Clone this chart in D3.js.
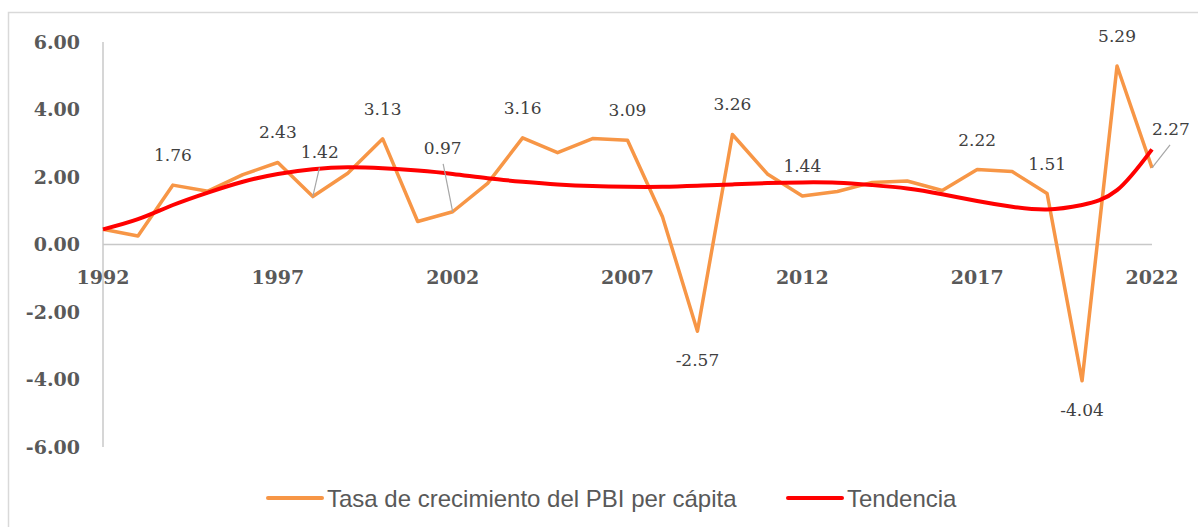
<!DOCTYPE html>
<html>
<head>
<meta charset="utf-8">
<script src="https://cdn.jsdelivr.net/npm/d3@7"></script>
<style>
  body { margin: 0; background: #fff; }
</style>
</head>
<body>
<div id="chart"></div>
<script>
// años y valores
const years = d3.range(1992, 2023);
const growth = [0.45, 0.25, 1.76, 1.58, 2.07, 2.43, 1.42, 2.11, 3.13, 0.68,
                0.97, 1.81, 3.16, 2.72, 3.14, 3.09, 0.82, -2.57, 3.26, 2.09,
                1.44, 1.57, 1.84, 1.88, 1.60, 2.22, 2.16, 1.51, -4.04, 5.29, 2.27];
const trend = [0.45, 0.75, 1.17, 1.54, 1.86, 2.09, 2.23, 2.29, 2.26, 2.19,
               2.09, 1.96, 1.86, 1.78, 1.73, 1.71, 1.71, 1.74, 1.78, 1.82,
               1.84, 1.83, 1.76, 1.66, 1.49, 1.29, 1.12, 1.04, 1.17, 1.61, 2.82];
const yTicks = [6, 4, 2, 0, -2, -4, -6];
const xTicks = [1992, 1997, 2002, 2007, 2012, 2017, 2022];
const labelYears = [1994, 1997, 1998, 2000, 2002, 2004, 2007, 2009, 2010, 2012, 2017, 2019, 2020, 2021, 2022];
const seriesNames = ["Tasa de crecimiento del PBI per cápita", "Tendencia"];

let width = 1198,
    height = 527;

const svg = d3.select("#chart")
  .append("svg")
  .attr("width", width)
  .attr("height", height);

// marco
svg.append("path")
  .attr("d", "M8.5," + (height + 2) + "V12.5H" + (width + 2))
  .attr("fill", "none")
  .attr("stroke", "#d9d9d9")
  .attr("stroke-width", 1.5);

const x = d3.scaleLinear().domain([1992, 2022]).range([103, 1152]);
const y = d3.scaleLinear().domain([-6, 6]).range([447, 42]);

// ejes
svg.append("line")
  .attr("x1", x(1992)).attr("x2", x(1992))
  .attr("y1", y(6)).attr("y2", y(-6))
  .attr("stroke", "#c8c8c8").attr("stroke-width", 1.5);
svg.append("line")
  .attr("x1", x(1992)).attr("x2", x(2022))
  .attr("y1", y(0)).attr("y2", y(0))
  .attr("stroke", "#c8c8c8").attr("stroke-width", 1.5);

svg.selectAll(".ylab")
  .data(yTicks)
  .enter().append("text")
  .attr("class", "ylab")
  .attr("x", 80)
  .attr("y", function (d) { return y(d); })
  .attr("dy", "0.36em")
  .attr("text-anchor", "end")
  .style("font-family", "DejaVu Serif")
  .style("font-weight", "bold")
  .style("font-size", "19px")
  .style("fill", "#595959")
  .text(function (d) { return d.toFixed(2); });

svg.selectAll(".xlab")
  .data(xTicks)
  .enter().append("text")
  .attr("class", "xlab")
  .attr("x", function (d) { return x(d); })
  .attr("y", y(0) + 39)
  .attr("text-anchor", "middle")
  .style("font-family", "DejaVu Serif")
  .style("font-weight", "bold")
  .style("font-size", "19px")
  .style("fill", "#595959")
  .text(function (d) { return d; });

const line = d3.line()
  .x(function (d, i) { return x(years[i]); })
  .y(function (d) { return y(d); });

svg.append("path")
  .datum(growth)
  .attr("d", line)
  .attr("fill", "none")
  .attr("stroke", "#f79646")
  .attr("stroke-width", 3.5)
  .attr("stroke-linejoin", "round");

svg.append("path")
  .datum(trend)
  .attr("d", line.curve(d3.curveNatural))
  .attr("fill", "none")
  .attr("stroke", "#ff0000")
  .attr("stroke-width", 4);

// etiquetas de datos
function labelPos(yr) {
  let v = growth[years.indexOf(yr)];
  switch (yr) {
    case 1998: return {dx: 7, dy: -39, leader: true};
    case 2002: return {dx: -10, dy: -58, leader: true};
    case 2022: return {dx: 19, dy: -33, leader: true};
  }
  if (v < 0) return {dx: 0, dy: 35};
  return {dx: 0, dy: -24};
}

labelYears.forEach(function (yr) {
  let v = growth[years.indexOf(yr)],
      p = labelPos(yr),
      px = x(yr),
      py = y(v);
  if (p.leader) {
    svg.append("line")
      .attr("x1", px).attr("y1", py)
      .attr("x2", px + p.dx * 0.95).attr("y2", py + p.dy + 10)
      .attr("stroke", "#a6a6a6").attr("stroke-width", 1.2);
  }
  svg.append("text")
    .attr("x", px + p.dx)
    .attr("y", py + p.dy)
    .attr("text-anchor", "middle")
    .style("font-family", "DejaVu Serif")
    .style("font-size", "17px")
    .style("fill", "#404040")
    .text(v.toFixed(2));
});

// leyenda
const legend = [
  {name: seriesNames[0], color: "#f79646", x0: 268},
  {name: seriesNames[1], color: "#ff0000", x0: 788}
];
let lg = svg.selectAll(".legend")
  .data(legend)
  .enter().append("g")
  .attr("class", "legend")
  .attr("transform", function (d) { return "translate(" + d.x0 + ",498)"; });
lg.append("line")
  .attr("x1", 0).attr("x2", 54)
  .attr("stroke", function (d) { return d.color; })
  .attr("stroke-width", 4)
  .attr("stroke-linecap", "round");
lg.append("text")
  .attr("x", 59)
  .attr("dy", "0.36em")
  .style("font-family", "Liberation Sans")
  .style("font-size", "24px")
  .style("fill", "#595959")
  .text(function (d) { return d.name; });
</script>
</body>
</html>
